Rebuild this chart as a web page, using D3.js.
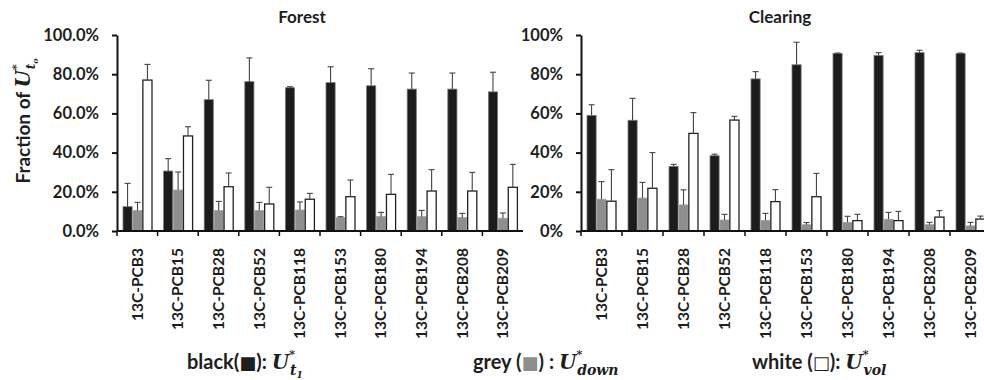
<!DOCTYPE html>
<html>
<head>
<meta charset="utf-8">
<script src="https://cdn.jsdelivr.net/npm/d3@7"></script>
<style>
  body { margin: 0; background: #fff; }
  svg text { font-family: Lato, "Open Sans", sans-serif; font-weight: bold; fill: #1e1e1e; }
  .math { font-family: "DejaVu Serif", serif; font-style: italic; font-weight: bold; }
  .sq { font-family: "DejaVu Sans", sans-serif; font-weight: normal; }
</style>
</head>
<body>
<svg id="chart" width="984" height="380"></svg>
<script>
const categories = ['13C-PCB3', '13C-PCB15', '13C-PCB28', '13C-PCB52', '13C-PCB118',
  '13C-PCB153', '13C-PCB180', '13C-PCB194', '13C-PCB208', '13C-PCB209'];
const seriesKeys = ['black', 'grey', 'white'];

// Forest (% of U*t0), error = length of the upper error bar
const forestBlack = [12.4, 30.6, 67, 76.2, 73.1, 75.7, 74.1, 72.4, 72.4, 71];
const forestBlackErr = [11.9, 6.3, 9.9, 12.1, 0.5, 8.1, 8.7, 8.2, 8.2, 10];
const forestGrey = [10.4, 20.9, 10.4, 10.4, 10.7, 6.8, 7.3, 7.3, 6.8, 6.5];
const forestGreyErr = [4.2, 9.2, 4.7, 4.2, 4.1, 0.5, 2.2, 3.2, 2.2, 2.7];
const forestWhite = [77, 48.5, 22.6, 13.8, 16.2, 17.5, 18.7, 20.4, 20.4, 22.3];
const forestWhiteErr = [8, 4.7, 7, 8.5, 3, 8.5, 10.2, 10.9, 9.5, 11.7];

// Clearing
const clearBlack = [59, 56.5, 33, 38.4, 77.6, 84.8, 90.6, 89.5, 91, 90.6];
const clearBlackErr = [5.4, 11.2, 1, 0.8, 3.7, 11.5, 0.2, 1.5, 1.2, 0.2];
const clearGrey = [16.2, 16.8, 13.3, 5.6, 5.4, 3.2, 4.4, 6, 3.2, 2.6];
const clearGreyErr = [9, 8, 7.7, 2.9, 3.6, 1.1, 3.1, 3.5, 1.2, 1.8];
const clearWhite = [15.2, 21.8, 49.8, 56.6, 15, 17.5, 5.3, 5.3, 7.1, 6.1];
const clearWhiteErr = [16.1, 18.2, 10.6, 1.9, 6.1, 11.9, 3.2, 4.7, 3.3, 1.5];

const yTicks = [0, 20, 40, 60, 80, 100];

const fills = {black: '#1c1c1c', grey: '#8e8e8e', white: '#ffffff'};
const strokes = {black: '#7a7a7a', grey: '#a0a0a0', white: '#222'};

const svg = d3.select('#chart');

function buildRows(b, be, g, ge, w, we) {
  return categories.map((c, i) => ({
    cat: c,
    vals: [
      {key: 'black', v: b[i], e: be[i]},
      {key: 'grey', v: g[i], e: ge[i]},
      {key: 'white', v: w[i], e: we[i]}
    ]
  }));
}

function drawPanel(rows, x0, x1, title, titleX, tickFmt) {
  const y = d3.scaleLinear().domain([0, 100]).range([231, 35]);
  const x = d3.scaleBand().domain(categories).range([x0, x1]).padding(0);
  const xi = d3.scaleBand().domain(seriesKeys).range([6, 35]).paddingInner(0.08);

  const g = svg.append('g');

  // bars
  const grp = g.selectAll('.cat').data(rows).enter().append('g')
    .attr('transform', d => `translate(${x(d.cat)},0)`);

  grp.selectAll('rect').data(d => d.vals).enter().append('rect')
    .attr('x', d => xi(d.key))
    .attr('y', d => y(d.v))
    .attr('width', xi.bandwidth())
    .attr('height', d => y(0) - y(d.v))
    .attr('fill', d => fills[d.key])
    .attr('stroke', d => strokes[d.key])
    .attr('stroke-width', d => d.key === 'white' ? 1.3 : 0.8);

  // error bars (upper only)
  const eb = grp.selectAll('.err').data(d => d.vals).enter().append('g');
  eb.append('line')
    .attr('x1', d => xi(d.key) + xi.bandwidth() / 2)
    .attr('x2', d => xi(d.key) + xi.bandwidth() / 2)
    .attr('y1', d => y(d.v))
    .attr('y2', d => y(d.v + d.e))
    .attr('stroke', '#444').attr('stroke-width', 1.1);
  eb.append('line')
    .attr('x1', d => xi(d.key) + xi.bandwidth() / 2 - 3)
    .attr('x2', d => xi(d.key) + xi.bandwidth() / 2 + 3)
    .attr('y1', d => y(d.v + d.e))
    .attr('y2', d => y(d.v + d.e))
    .attr('stroke', '#444').attr('stroke-width', 1.1);

  // y axis
  const yAxis = g.append('g').attr('transform', `translate(${x0},0)`)
    .call(d3.axisLeft(y).tickValues(yTicks).tickFormat(tickFmt).tickSize(5).tickSizeOuter(0));
  yAxis.select('.domain').attr('stroke', '#111').attr('stroke-width', 2);
  yAxis.selectAll('.tick line').attr('stroke', '#111').attr('stroke-width', 2);
  yAxis.selectAll('.tick text').attr('x', -18).attr('font-size', 16.5).attr('fill', '#1e1e1e')
    .style('font-family', 'Lato, sans-serif').style('font-weight', 'bold');

  // x axis: line + boundary ticks
  g.append('line').attr('x1', x0).attr('x2', x1).attr('y1', y(0)).attr('y2', y(0))
    .attr('stroke', '#111').attr('stroke-width', 2);
  g.selectAll('.bt').data(categories).enter().append('line')
    .attr('x1', d => x(d)).attr('x2', d => x(d))
    .attr('y1', y(0)).attr('y2', y(0) + 5)
    .attr('stroke', '#111').attr('stroke-width', 1.5);
  g.selectAll('.xl').data(categories).enter().append('text')
    .attr('transform', d => `translate(${x(d) + x.bandwidth() / 2 + 5.5},248) rotate(-90)`)
    .attr('text-anchor', 'end')
    .attr('font-size', 15.5)
    .text(d => d);

  g.append('text').attr('x', titleX).attr('y', 23)
    .attr('text-anchor', 'middle').attr('font-size', 17).text(title);
}

drawPanel(buildRows(forestBlack, forestBlackErr, forestGrey, forestGreyErr, forestWhite, forestWhiteErr),
  117, 523, 'Forest', 302, d => d.toFixed(1) + '%');
drawPanel(buildRows(clearBlack, clearBlackErr, clearGrey, clearGreyErr, clearWhite, clearWhiteErr),
  581, 991, 'Clearing', 780, d => d + '%');

// y label
const yl = svg.append('text')
  .attr('transform', 'translate(30,121) rotate(-90)')
  .attr('text-anchor', 'middle')
  .attr('font-size', 19);
yl.append('tspan').text('Fraction of ');
yl.append('tspan').attr('class', 'math').attr('font-size', 20).text('U');
yl.append('tspan').attr('class', 'math').attr('font-size', 11).attr('dy', -10).text('*');
yl.append('tspan').attr('class', 'math').attr('font-size', 12).attr('dx', -5).attr('dy', 15).text('t');
yl.append('tspan').attr('class', 'math').attr('font-size', 8).attr('dy', 3).text('o');

// legend
function legendItem(xPos, parts, sub, subSub) {
  const t = svg.append('text').attr('x', xPos).attr('y', 369).attr('font-size', 20);
  parts.forEach(p => {
    const s = t.append('tspan').text(p.text);
    if (p.sq) s.attr('class', 'sq').attr('font-size', 18);
    if (p.fill) s.style('fill', p.fill);
  });
  t.append('tspan').attr('class', 'math').attr('font-size', 20).text('U');
  t.append('tspan').attr('class', 'math').attr('font-size', 11).attr('dy', -11).text('*');
  t.append('tspan').attr('class', 'math').attr('font-size', 14).attr('dx', -5).attr('dy', 17).text(sub);
  if (subSub) t.append('tspan').attr('class', 'math').attr('font-size', 9).attr('dy', 3).text(subSub);
}
legendItem(187, [{text: 'black('}, {text: '\u25A0', sq: true}, {text: '): '}], 't', '1');
legendItem(473, [{text: 'grey ('}, {text: '\u25A0', sq: true, fill: '#8e8e8e'}, {text: ') :  '}], 'down');
legendItem(752, [{text: 'white ('}, {text: '\u25A1', sq: true}, {text: '): '}], 'vol');
</script>
</body>
</html>
